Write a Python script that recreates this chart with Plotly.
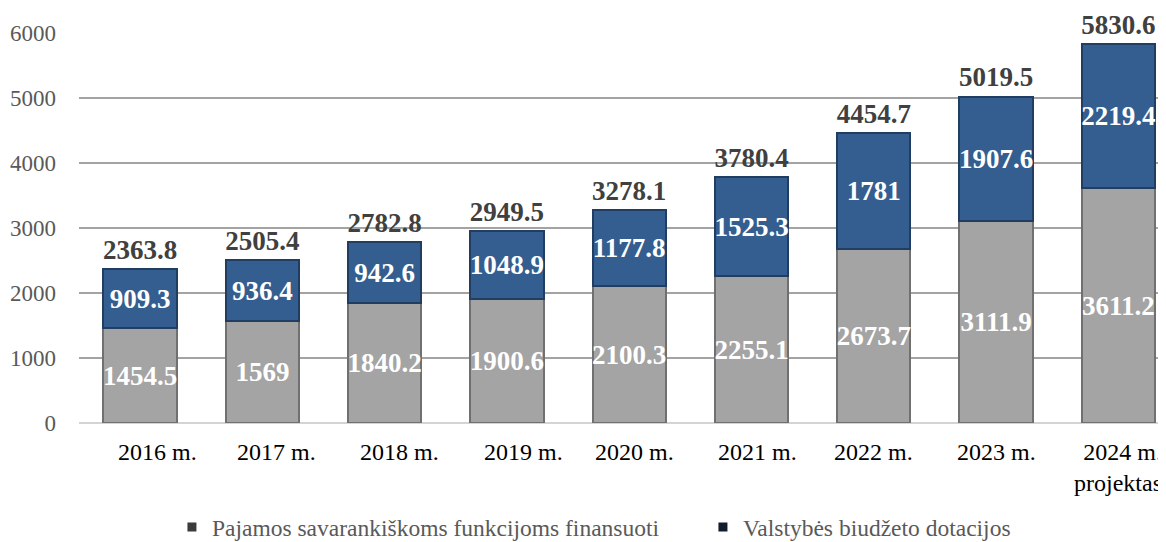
import plotly.graph_objects as go

categories = ["2016 m.", "2017 m.", "2018 m.", "2019 m.", "2020 m.", "2021 m.",
              "2022 m.", "2023 m.", "2024 m.<br>projektas"]
own_revenue = [1454.5, 1569, 1840.2, 1900.6, 2100.3, 2255.1, 2673.7, 3111.9, 3611.2]
state_grants = [909.3, 936.4, 942.6, 1048.9, 1177.8, 1525.3, 1781, 1907.6, 2219.4]
series_names = ["Pajamos savarankiškoms funkcijoms finansuoti", "Valstybės biudžeto dotacijos"]
y_ticks = [0, 1000, 2000, 3000, 4000, 5000, 6000]

# small horizontal nudges of the category labels (px), as in the reference
label_nudge = [17, 14, 15, 17, 5, 6, 0, 0, 0]

totals = [round(a + b, 1) for a, b in zip(own_revenue, state_grants)]
fmt = lambda v: f"{v:g}"

FONT = "Liberation Serif"
fig = go.Figure()
fig.add_trace(go.Bar(
    x=categories, y=own_revenue, text=[fmt(v) for v in own_revenue],
    textposition="inside", insidetextanchor="middle", textangle=0, constraintext="none",
    textfont=dict(family=FONT, size=27, color="white", weight="bold"),
    marker=dict(color="#a4a4a4", line=dict(color="#707070", width=2)),
    showlegend=False, hoverinfo="skip"))
fig.add_trace(go.Bar(
    x=categories, y=state_grants, text=[fmt(v) for v in state_grants],
    textposition="inside", insidetextanchor="middle", textangle=0, constraintext="none",
    textfont=dict(family=FONT, size=27, color="white", weight="bold"),
    marker=dict(color="#345e90", line=dict(color="#213d62", width=2)),
    showlegend=False, hoverinfo="skip"))
fig.add_trace(go.Scatter(
    x=categories, y=totals, mode="markers+text", text=[fmt(v) for v in totals],
    textposition="top center", cliponaxis=False,
    marker=dict(size=4, color="rgba(0,0,0,0)"),
    textfont=dict(family=FONT, size=27, color="#404040", weight="bold"),
    showlegend=False, hoverinfo="skip"))
for name, col, lg in zip(series_names, ["#3b3b3b", "#111c2c"], ["legend", "legend2"]):
    fig.add_trace(go.Scatter(x=[None], y=[None], mode="markers", name=name, legend=lg,
                             marker=dict(symbol="square", size=9, color=col)))

for cat, dx in zip(categories, label_nudge):
    fig.add_annotation(x=cat, xref="x", y=0, yref="paper", yanchor="top", yshift=-14,
                       xshift=dx, text=cat, showarrow=False, align="right",
                       font=dict(family=FONT, size=24, color="black"))

leg_font = dict(family=FONT, size=23.5, color="#595959")
fig.update_layout(
    width=1158, height=534, barmode="stack", bargap=0.4,
    plot_bgcolor="white", paper_bgcolor="white",
    margin=dict(l=71, r=0, t=25, b=119, autoexpand=False),
    font=dict(family=FONT),
    legend=dict(orientation="h", x=0.0855, xanchor="left", y=-0.267, yanchor="middle",
                font=leg_font, itemclick=False),
    legend2=dict(orientation="h", x=0.574, xanchor="left", y=-0.267, yanchor="middle",
                 font=leg_font, itemclick=False),
    xaxis=dict(range=[-0.5, 8.39], showgrid=False, showline=False, ticks="",
               showticklabels=False, automargin=False),
    yaxis=dict(range=[0, 6000], tickvals=y_ticks, showgrid=True, gridcolor="#a3a3a3",
               gridwidth=1.5, zeroline=True, zerolinecolor="#d4d4d4", zerolinewidth=2,
               showline=False, ticks="", ticklabelstandoff=22, automargin=False,
               tickfont=dict(family=FONT, size=23, color="#595959")),
)
fig.write_html("out.html")
